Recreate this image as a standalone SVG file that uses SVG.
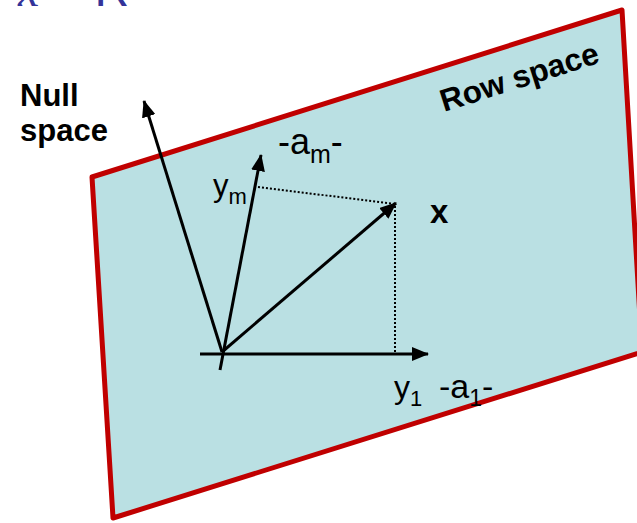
<svg xmlns="http://www.w3.org/2000/svg" width="637" height="523" viewBox="0 0 637 523">
<style>
.lbl{font-family:"Liberation Sans",Arial,sans-serif;fill:#000}
.b{font-weight:bold}
.vec{stroke:#000;stroke-width:3;fill:none}
.dot{stroke:#000;stroke-width:2;stroke-dasharray:2 2;fill:none}
</style>
<defs>
<marker id="ah" markerUnits="userSpaceOnUse" markerWidth="18" markerHeight="14" refX="16" refY="7" orient="auto">
<path d="M0,0 L17,7 L0,14 Z" fill="#000"/>
</marker>
</defs>
<g id="title">
<text x="18" y="6" font-family="Liberation Serif,serif" font-size="48" fill="#333399"><tspan font-style="italic">x</tspan><tspan dx="13" fill="#8888cc">=</tspan><tspan dx="15" font-family="Liberation Sans,sans-serif">R</tspan></text>
</g>
<g id="rowspace">
<polygon points="92,177 622,10 642,352 113,518" fill="#BAE0E3" stroke="#C00000" stroke-width="5" stroke-linejoin="round"/>
<text class="lbl b" x="444" y="112" font-size="31.5" transform="rotate(-17.5 444 112)">Row space</text>
</g>
<g id="nullspace-label">
<text class="lbl b" x="20" y="106" font-size="31">Null</text>
<text class="lbl b" x="20" y="141" font-size="31">space</text>
</g>
<g id="connectors">
<line class="vec" x1="200" y1="354" x2="428" y2="354" marker-end="url(#ah)"/>
<line class="vec" x1="220" y1="370" x2="261" y2="155" marker-end="url(#ah)"/>
<line class="vec" x1="222" y1="352" x2="144" y2="101" marker-end="url(#ah)"/>
<line class="vec" x1="222" y1="352" x2="396" y2="203" marker-end="url(#ah)"/>
<line class="dot" x1="258" y1="187" x2="395" y2="204"/>
<line class="dot" x1="395" y1="206" x2="395" y2="352"/>
</g>
<g id="labels">
<text class="lbl" x="278" y="154" font-size="36">-a<tspan font-size="25" dy="9">m</tspan><tspan dy="-9">-</tspan></text>
<text class="lbl" x="213" y="196" font-size="31">y<tspan font-size="22" dy="8">m</tspan></text>
<text class="lbl b" x="430" y="223" font-size="33">x</text>
<text class="lbl" x="394" y="398" font-size="32">y<tspan font-size="22" dy="8">1</tspan></text>
<text class="lbl" x="439" y="398" font-size="34">-a<tspan font-size="23" dy="8">1</tspan><tspan dy="-8">-</tspan></text>
</g>
</svg>
